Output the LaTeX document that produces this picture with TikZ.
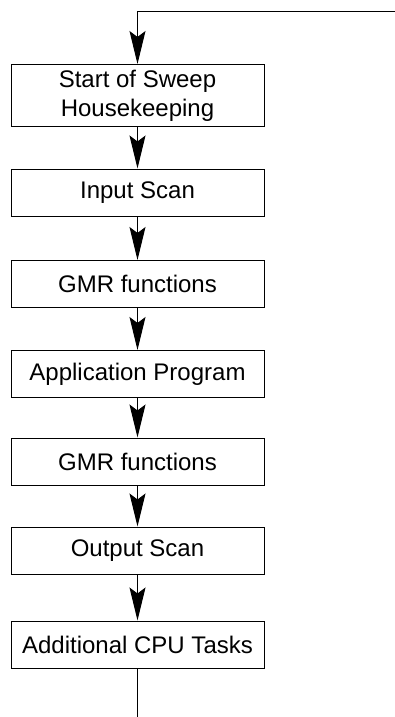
\documentclass[tikz,border=0pt]{standalone}
\usepackage{fontspec}
\setmainfont{Liberation Sans}
\usetikzlibrary{arrows.meta}
\tikzset{
    stage/.style={
		draw, line width=0.5pt, minimum width=126.5pt, minimum height=23.5pt,
		inner sep=0pt, align=center, font=\fontsize{12}{14.5}\selectfont
	}
}
\tikzset{
    flow/.style={
		line width=0.5pt, -{Stealth[length=16.5pt,width=8pt,inset=3pt]}
	}
}

\begin{document}
\begin{tikzpicture}[x=0.5pt,y=-0.5pt]
			\useasboundingbox (0,0) rectangle (395,717);
			\node[stage, minimum height=31pt] (sweep) at(137.5,95.5) {Start of Sweep\\Housekeeping};
			\node[stage] (input) at(137.5,192.5) {Input Scan};
			\node[stage] (gmrA) at(137.5,284) {GMR functions};
			\node[stage] (app) at(137.5,374) {Application Program};
			\node[stage] (gmrB) at(137.5,461.5) {GMR functions};
			\node[stage] (output) at(137.5,550.5) {Output Scan};
			\node[stage] (cpu) at(137.5,644.5) {Additional CPU Tasks};
			\coordinate (loopIn) at(395,11.5);
			\coordinate (loopOut) at(137.5,717);
			\draw[flow] (loopIn) -| (sweep.north);
			\draw[flow] (sweep) -- (input);
			\draw[flow] (input) -- (gmrA);
			\draw[flow] (gmrA) -- (app);
			\draw[flow] (app) -- (gmrB);
			\draw[flow] (gmrB) -- (output);
			\draw[flow] (output) -- (cpu);
			\draw[line width=0.5pt] (cpu) -- (loopOut);
		\end{tikzpicture}
\end{document}
